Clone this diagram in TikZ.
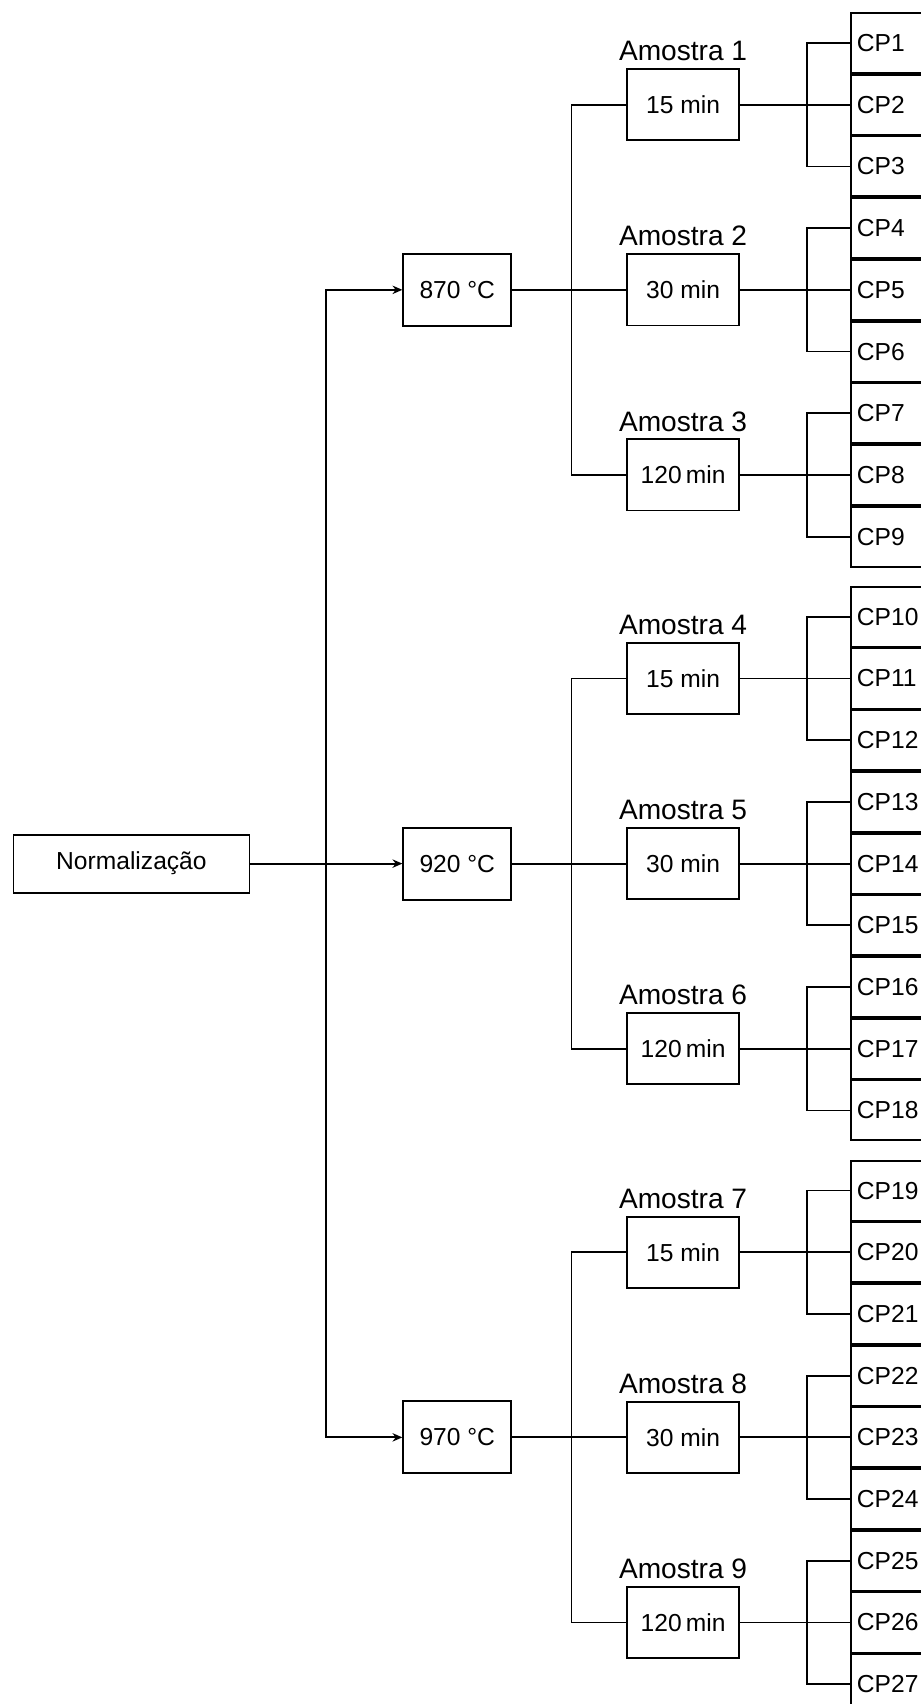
\documentclass[tikz,border=0pt]{standalone}
\usepackage{fontspec}
\setmainfont{Liberation Sans}
\usetikzlibrary{shapes, arrows.meta, positioning, calc}

\begin{document}
\begin{tikzpicture}
  [
  block/.style = {rectangle, draw, line width=1.3pt, node distance = 1cm,
    minimum height = 1.78cm, minimum width = 2.8cm,
    font=\fontsize{17.5}{20}\selectfont},
  % temperatura
  temp/.style = {block, minimum width = 2.7cm, minimum height = 1.8cm},
  % corpos de prova
  cp/.style = {rectangle, draw, line width=1.3pt,
    minimum height = 1.497cm, text width = 2.2cm, inner xsep = .15cm,
    align = left, font=\fontsize{17.5}{20}\selectfont},
  amostra/.style = {font=\fontsize{20}{24}\selectfont, inner sep = 2pt},
  % line
  line/.style = {draw, line width=1.3pt},
  seta/.style = {draw, -{Stealth[length=7pt, width=6pt]}, line width=1.3pt},
  node distance = 0cm,
  ]

  \useasboundingbox (0,0) rectangle (23,-42.6);

  % corpos de prova
  \node [cp, anchor=west] (cp1) at (21.25,-1.075) {CP1};
  \node [cp, below= of cp1] (cp2) {CP2};
  \node [cp, below= of cp2] (cp3) {CP3};
  \node [cp, below= of cp3] (cp4) {CP4};
  \node [cp, below= of cp4] (cp5) {CP5};
  \node [cp, below= of cp5] (cp6) {CP6};
  \node [cp, below= of cp6] (cp7) {CP7};
  \node [cp, below= of cp7] (cp8) {CP8};
  \node [cp, below= of cp8] (cp9) {CP9};
  \node [cp, below=.46 of cp9] (cp10) {CP10};
  \node [cp, below= of cp10] (cp11) {CP11};
  \node [cp, below= of cp11] (cp12) {CP12};
  \node [cp, below= of cp12] (cp13) {CP13};
  \node [cp, below= of cp13] (cp14) {CP14};
  \node [cp, below= of cp14] (cp15) {CP15};
  \node [cp, below= of cp15] (cp16) {CP16};
  \node [cp, below= of cp16] (cp17) {CP17};
  \node [cp, below= of cp17] (cp18) {CP18};
  \node [cp, below=.46 of cp18] (cp19) {CP19};
  \node [cp, below= of cp19] (cp20) {CP20};
  \node [cp, below= of cp20] (cp21) {CP21};
  \node [cp, below= of cp21] (cp22) {CP22};
  \node [cp, below= of cp22] (cp23) {CP23};
  \node [cp, below= of cp23] (cp24) {CP24};
  \node [cp, below= of cp24] (cp25) {CP25};
  \node [cp, below= of cp25] (cp26) {CP26};
  \node [cp, below= of cp26] (cp27) {CP27};

  % tempos de tratamento
  \node [block, left = 2.75 of cp2] (am1) {15 min};
  \node [block, left = 2.75 of cp5] (am2) {30 min};
  \node [block, left = 2.75 of cp8] (am3) {120\,min};
  \node [block, left = 2.75 of cp11] (am4) {15 min};
  \node [block, left = 2.75 of cp14] (am5) {30 min};
  \node [block, left = 2.75 of cp17] (am6) {120\,min};
  \node [block, left = 2.75 of cp20] (am7) {15 min};
  \node [block, left = 2.75 of cp23] (am8) {30 min};
  \node [block, left = 2.75 of cp26] (am9) {120\,min};

  % nomes das amostras
  \node [amostra, above = .1 of am1] (lb1) {Amostra 1};
  \node [amostra, above = .1 of am2] (lb2) {Amostra 2};
  \node [amostra, above = .1 of am3] (lb3) {Amostra 3};
  \node [amostra, above = .1 of am4] (lb4) {Amostra 4};
  \node [amostra, above = .1 of am5] (lb5) {Amostra 5};
  \node [amostra, above = .1 of am6] (lb6) {Amostra 6};
  \node [amostra, above = .1 of am7] (lb7) {Amostra 7};
  \node [amostra, above = .1 of am8] (lb8) {Amostra 8};
  \node [amostra, above = .1 of am9] (lb9) {Amostra 9};

  % temperaturas
  \node [temp, left = 2.85 of am2] (t870) {870 °C};
  \node [temp, left = 2.85 of am5] (t920) {920 °C};
  \node [temp, left = 2.85 of am8] (t970) {970 °C};
  \node [block, minimum width = 5.9cm, minimum height = 1.45cm,
    left = 3.8 of t920] (norm) {Normalização};

  % pontos de ramificacao
  \coordinate (m) at ($(norm.east)!.5!(t920.west)$);
  \coordinate (f1) at ($(t870.east)!.52!(am2.west)$);
  \coordinate (f2) at ($(t920.east)!.52!(am5.west)$);
  \coordinate (f3) at ($(t970.east)!.52!(am8.west)$);
  \coordinate (g1) at ($(am1.east)!.61!(cp2.west)$);
  \coordinate (g2) at ($(am2.east)!.61!(cp5.west)$);
  \coordinate (g3) at ($(am3.east)!.61!(cp8.west)$);
  \coordinate (g4) at ($(am4.east)!.61!(cp11.west)$);
  \coordinate (g5) at ($(am5.east)!.61!(cp14.west)$);
  \coordinate (g6) at ($(am6.east)!.61!(cp17.west)$);
  \coordinate (g7) at ($(am7.east)!.61!(cp20.west)$);
  \coordinate (g8) at ($(am8.east)!.61!(cp23.west)$);
  \coordinate (g9) at ($(am9.east)!.61!(cp26.west)$);

  % path
  \path [seta] (norm) -- (t920);
  \path [seta] (m) |- (t870);
  \path [seta] (m) |- (t970);

  \path [line] (t870) -- (am2);
  \path [line] (t920) -- (am5);
  \path [line] (t970) -- (am8);
  \path [line] (am1.west) -| (f1) |- (am3.west);
  \path [line] (am4.west) -| (f2) |- (am6.west);
  \path [line] (am7.west) -| (f3) |- (am9.west);

  \path [line] (am1) -- (cp2);
  \path [line] (am2) -- (cp5);
  \path [line] (am3) -- (cp8);
  \path [line] (am4) -- (cp11);
  \path [line] (am5) -- (cp14);
  \path [line] (am6) -- (cp17);
  \path [line] (am7) -- (cp20);
  \path [line] (am8) -- (cp23);
  \path [line] (am9) -- (cp26);
  \path [line] (cp1.west) -| (g1) |- (cp3.west);
  \path [line] (cp4.west) -| (g2) |- (cp6.west);
  \path [line] (cp7.west) -| (g3) |- (cp9.west);
  \path [line] (cp10.west) -| (g4) |- (cp12.west);
  \path [line] (cp13.west) -| (g5) |- (cp15.west);
  \path [line] (cp16.west) -| (g6) |- (cp18.west);
  \path [line] (cp19.west) -| (g7) |- (cp21.west);
  \path [line] (cp22.west) -| (g8) |- (cp24.west);
  \path [line] (cp25.west) -| (g9) |- (cp27.west);

\end{tikzpicture}
\end{document}
